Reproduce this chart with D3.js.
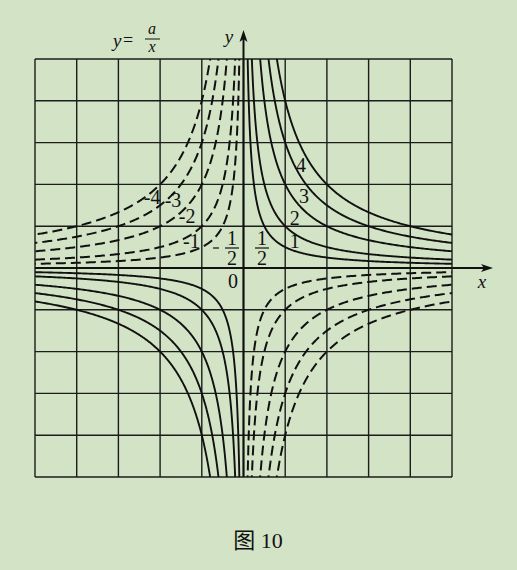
<!DOCTYPE html>
<html>
<head>
<meta charset="utf-8">
<script src="https://cdn.jsdelivr.net/npm/d3@7/dist/d3.min.js"></script>
<style>
html,body{margin:0;padding:0;background:#d3e3c6;}
svg{display:block;}
text{font-family:"Liberation Serif","Noto Sans CJK SC",serif;fill:#111;}
</style>
</head>
<body>
<svg id="chart" width="517" height="570"></svg>
<script>
// ---- data ----
const positiveA = [0.5, 1, 2, 3, 4];          // solid curves y = a/x
const negativeA = [-0.5, -1, -2, -3, -4];     // dashed curves y = a/x
const gridTicks = [-5, -4, -3, -2, -1, 0, 1, 2, 3, 4, 5];
const posLabels = [
  {t: "4", x: 1.38, y: 2.3},
  {t: "3", x: 1.45, y: 1.55},
  {t: "2", x: 1.23, y: 1.03},
  {t: "1", x: 1.23, y: 0.47}
];
const negLabels = [
  {t: "-4", x: -2.19, y: 1.52},
  {t: "-3", x: -1.69, y: 1.45},
  {t: "-2", x: -1.35, y: 1.07},
  {t: "-1", x: -1.25, y: 0.47}
];
const caption = "图 10";

// ---- scales ----
const svg = d3.select("#chart");
const x = d3.scaleLinear().domain([-5, 5]).range([35, 452]);
const y = d3.scaleLinear().domain([-5, 5]).range([477, 59]);

svg.append("defs").append("clipPath").attr("id", "clip")
  .append("rect").attr("x", x(-5)).attr("y", y(5))
  .attr("width", x(5) - x(-5)).attr("height", y(-5) - y(5));

// grid
const g = svg.append("g");
g.selectAll("line.v").data(gridTicks).join("line")
  .attr("x1", d => x(d)).attr("x2", d => x(d))
  .attr("y1", y(5)).attr("y2", y(-5))
  .attr("stroke", "#1c1c1c").attr("stroke-width", 1.4);
g.selectAll("line.h").data(gridTicks).join("line")
  .attr("y1", d => y(d)).attr("y2", d => y(d))
  .attr("x1", x(-5)).attr("x2", x(5))
  .attr("stroke", "#1c1c1c").attr("stroke-width", 1.4);

// curves
function branch(a, sign) {
  const x0 = Math.abs(a) / 5.2, n = 300;
  const pts = [];
  for (let i = 0; i <= n; i++) {
    const xv = x0 * Math.pow(5.05 / x0, i / n);
    pts.push([sign * xv, a / (sign * xv)]);
  }
  return pts;
}
const line = d3.line().x(d => x(d[0])).y(d => y(d[1]));
const curves = svg.append("g").attr("clip-path", "url(#clip)");
positiveA.forEach(a => {
  [1, -1].forEach(s => {
    curves.append("path").attr("d", line(branch(a, s)))
      .attr("fill", "none").attr("stroke", "#111").attr("stroke-width", 1.9);
  });
});
negativeA.forEach(a => {
  [1, -1].forEach(s => {
    curves.append("path").attr("d", line(branch(a, s)))
      .attr("fill", "none").attr("stroke", "#111").attr("stroke-width", 2)
      .attr("stroke-dasharray", "10,5");
  });
});

// axes
svg.append("line").attr("x1", x(-5)).attr("x2", 487).attr("y1", y(0)).attr("y2", y(0))
  .attr("stroke", "#111").attr("stroke-width", 2);
svg.append("path").attr("d", `M493,${y(0)} L481,${y(0)-4} L484,${y(0)} L481,${y(0)+4} Z`).attr("fill", "#111");
svg.append("line").attr("x1", x(0)).attr("x2", x(0)).attr("y1", y(-5)).attr("y2", 36)
  .attr("stroke", "#111").attr("stroke-width", 2);
svg.append("path").attr("d", `M${x(0)},30 L${x(0)-4},42 L${x(0)},39 L${x(0)+4},42 Z`).attr("fill", "#111");

svg.append("text").attr("x", 482).attr("y", 288).attr("text-anchor", "middle")
  .attr("font-size", 19).attr("font-style", "italic").text("x");
svg.append("text").attr("x", 229).attr("y", 43).attr("text-anchor", "middle")
  .attr("font-size", 19).attr("font-style", "italic").text("y");

// title y = a/x
svg.append("text").attr("x", 113).attr("y", 47).attr("font-size", 19).attr("font-style", "italic").text("y");
svg.append("text").attr("x", 123).attr("y", 46).attr("font-size", 18).text("=");
svg.append("text").attr("x", 152).attr("y", 34).attr("text-anchor", "middle").attr("font-size", 16).attr("font-style", "italic").text("a");
svg.append("line").attr("x1", 145).attr("x2", 160).attr("y1", 39).attr("y2", 39).attr("stroke", "#111").attr("stroke-width", 1);
svg.append("text").attr("x", 152).attr("y", 52).attr("text-anchor", "middle").attr("font-size", 16).attr("font-style", "italic").text("x");

// labels
const labG = svg.append("g").attr("font-size", 20).attr("text-anchor", "middle");
labG.selectAll("text.p").data(posLabels).join("text")
  .attr("x", d => x(d.x)).attr("y", d => y(d.y)).text(d => d.t);
labG.selectAll("text.n").data(negLabels).join("text")
  .attr("x", d => x(d.x)).attr("y", d => y(d.y)).text(d => d.t);

// fractions 1/2 and -1/2
function frac(cx, sign) {
  labG.append("text").attr("x", cx).attr("y", 245).text("1");
  labG.append("text").attr("x", cx).attr("y", 265).text("2");
  svg.append("line").attr("x1", cx - 7).attr("x2", cx + 7).attr("y1", 248).attr("y2", 248)
    .attr("stroke", "#111").attr("stroke-width", 1.2);
  if (sign < 0) {
    svg.append("line").attr("x1", cx - 19).attr("x2", cx - 13).attr("y1", 248).attr("y2", 248)
      .attr("stroke", "#111").attr("stroke-width", 1.2);
  }
}
frac(262, 1);
frac(232, -1);
labG.append("text").attr("x", 233).attr("y", 288).text("0");

// caption
svg.append("text").attr("x", 258).attr("y", 548).attr("text-anchor", "middle")
  .attr("font-size", 22).text(caption);
</script>
</body>
</html>
